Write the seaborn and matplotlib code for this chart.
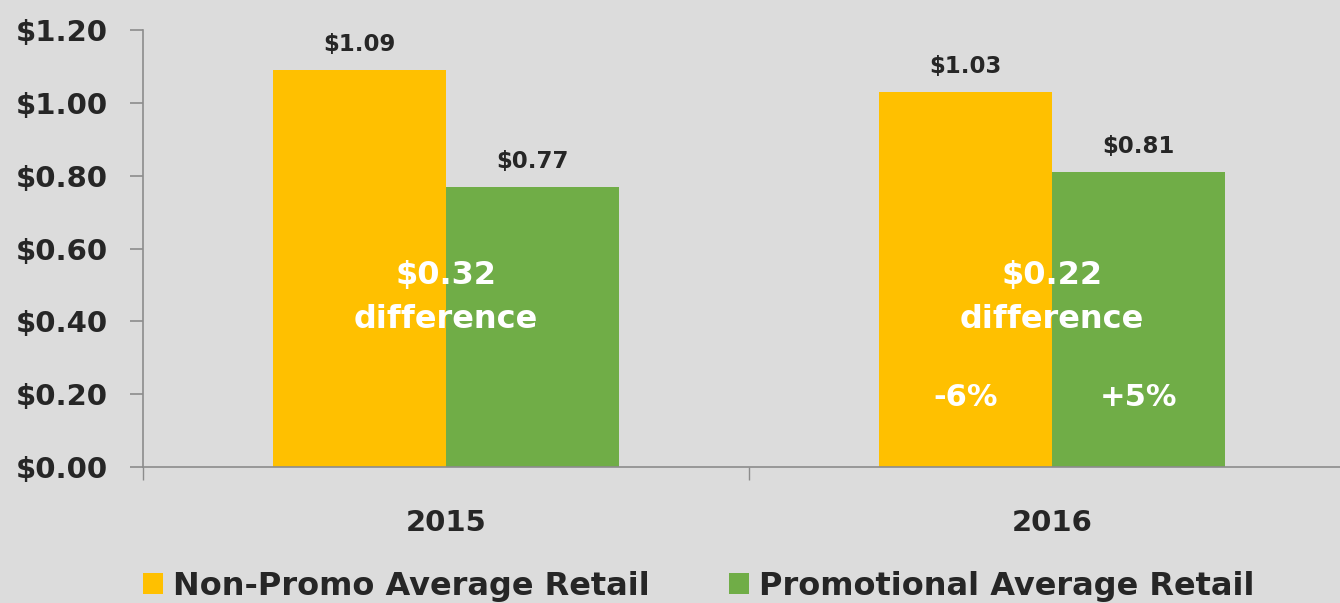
import matplotlib
matplotlib.use("Agg")
import matplotlib.pyplot as plt
import seaborn as sns
import pandas as pd
from matplotlib.patches import Patch

years = ["2015", "2016"]
series = ["Non-Promo Average Retail", "Promotional Average Retail"]
non_promo = [1.09, 1.03]
promo = [0.77, 0.81]
diff_amounts = ["$0.32", "$0.22"]
change_labels = {"2016": ["-6%", "+5%"]}
y_ticks = [0.0, 0.2, 0.4, 0.6, 0.8, 1.0, 1.2]

colors = ["#FFC000", "#70AD47"]
bg = "#DCDCDC"
txt_color = "#262626"

df = pd.DataFrame({
    "year": years * 2,
    "series": [series[0]] * 2 + [series[1]] * 2,
    "value": non_promo + promo,
})

sns.set_theme(style="white")
plt.rcParams["font.family"] = ["DejaVu Sans"]

fig = plt.figure(figsize=(13.4, 6.03), dpi=100, facecolor=bg)
ax = fig.add_axes([143 / 1340, (603 - 467) / 603, 1212 / 1340, 437 / 603])
ax.set_facecolor(bg)

sns.barplot(data=df, x="year", y="value", hue="series", hue_order=series,
            palette=colors, width=0.571, ax=ax, legend=False, saturation=1,
            linewidth=0, edgecolor="none")

ax.set_xlim(-0.5, 1.5)
ax.set_ylim(0, 1.2)
ax.set_yticks(y_ticks)
ax.set_yticklabels([f"${v:.2f}" for v in y_ticks], fontsize=21, fontweight="bold", color=txt_color)
ax.set_xticks([0, 1])
ax.set_xticklabels(years, fontsize=21, fontweight="bold", color=txt_color)
ax.set_xticks([-0.5, 0.5, 1.5], minor=True)
ax.tick_params(axis="x", which="major", length=0, pad=30)
ax.tick_params(axis="x", which="minor", length=9, color="#8C8C8C", width=1.0, direction="out", bottom=True)
ax.tick_params(axis="y", length=9.5, color="#8C8C8C", width=1.2, direction="out", pad=16, left=True)
ax.set_xlabel("")
ax.set_ylabel("")
for s in ["top", "right"]:
    ax.spines[s].set_visible(False)
for s in ["left", "bottom"]:
    ax.spines[s].set_color("#8C8C8C")
    ax.spines[s].set_linewidth(1.2)

# value labels
for cont in ax.containers:
    ax.bar_label(cont, labels=[f"${b.get_height():.2f}" for b in cont], padding=10,
                 fontsize=16.5, fontweight="bold", color=txt_color)

# difference labels
for i, amt in enumerate(diff_amounts):
    ax.text(i, 0.527, amt, ha="center", va="center", fontsize=23, fontweight="bold", color="white")
    ax.text(i, 0.404, "difference", ha="center", va="center", fontsize=23, fontweight="bold", color="white")

bar_w = 0.571 / 2
for yr, labs in change_labels.items():
    i = years.index(yr)
    for j, lab in enumerate(labs):
        off = -bar_w / 2 if j == 0 else bar_w / 2
        ax.text(i + off, 0.192, lab, ha="center", va="center", fontsize=22,
                fontweight="bold", color="white")

handles = [Patch(facecolor=c, edgecolor="none") for c in colors]
fig.legend(handles, series, ncol=2, loc="center left", bbox_to_anchor=(143 / 1340, 1 - 586 / 603),
           frameon=False, prop={"size": 23, "weight": "bold"}, handlelength=0.62,
           handleheight=0.62, handletextpad=0.31, columnspacing=2.5, labelcolor=txt_color,
           borderpad=0, borderaxespad=0)

fig.savefig("out.png", dpi=100, facecolor=bg)
